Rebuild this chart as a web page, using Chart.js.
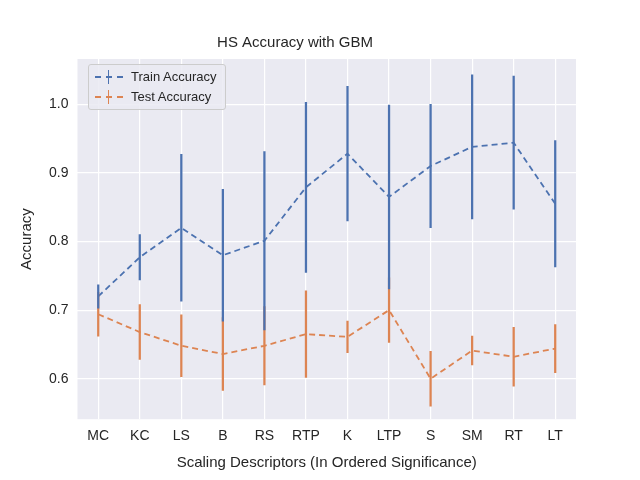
<!DOCTYPE html>
<html>
<head>
<script src="https://cdn.jsdelivr.net/npm/chart.js@4"></script>
<style>
body { margin: 0; background: #fff; }
#wrap { position: relative; width: 640px; height: 480px; }
#legend { position: absolute; left: 88px; top: 64px; background: rgba(234,234,242,0.85); border: 1px solid #ccc; border-radius: 3px;
  font: 13px "Liberation Sans", sans-serif; color: #262626; padding: 2px 8px 2px 6px; line-height: 20px; }
.row { display: flex; align-items: center; }
.sw { position: relative; width: 28px; height: 14px; margin-right: 8px; }
.sw .h { position: absolute; left: 0; top: 6px; width: 28px; border-top: 2px dashed; }
.sw .v { position: absolute; left: 13px; top: 0; height: 14px; border-left: 1.5px solid; }
</style>
</head>
<body>
<div id="wrap">
<canvas id="myChart" width="640" height="480"></canvas>
<div id="legend">
  <div class="row"><div class="sw"><div class="h" style="border-color:#4C72B0"></div><div class="v" style="border-color:#4C72B0"></div></div>Train Accuracy</div>
  <div class="row"><div class="sw"><div class="h" style="border-color:#DD8452"></div><div class="v" style="border-color:#DD8452"></div></div>Test Accuracy</div>
</div>
</div>
<script>
var labels = ['MC', 'KC', 'LS', 'B', 'RS', 'RTP', 'K', 'LTP', 'S', 'SM', 'RT', 'LT'];
var trainAcc = [0.720, 0.777, 0.820, 0.780, 0.801, 0.879, 0.928, 0.865, 0.910, 0.938, 0.944, 0.855];
var trainErr = [0.017, 0.033, 0.107, 0.096, 0.130, 0.124, 0.098, 0.134, 0.090, 0.105, 0.097, 0.092];
var testAcc = [0.694, 0.668, 0.648, 0.636, 0.648, 0.665, 0.661, 0.700, 0.600, 0.641, 0.632, 0.644];
var testErr = [0.032, 0.040, 0.045, 0.053, 0.057, 0.063, 0.023, 0.047, 0.040, 0.021, 0.043, 0.035];

function range(vals, errs) {
    var out = [];
    for (var i = 0; i < vals.length; i++) out.push([vals[i] - errs[i], vals[i] + errs[i]]);
    return out;
}

var bgPlugin = {
    id: 'bg',
    beforeDraw: function (chart) {
        var a = chart.chartArea, ctx = chart.ctx;
        ctx.save();
        ctx.fillStyle = '#EAEAF2';
        ctx.fillRect(a.left, a.top, a.right - a.left, a.bottom - a.top);
        ctx.restore();
    }
};

var font = { family: 'Liberation Sans', size: 14 };
var tfont = { family: 'Liberation Sans', size: 15 };
new Chart(document.getElementById('myChart'), {
    type: 'line',
    plugins: [bgPlugin],
    data: {
        labels: labels,
        datasets: [{
            label: 'Train Accuracy', data: trainAcc, borderColor: '#4C72B0', borderDash: [6, 4],
            borderWidth: 1.8, pointRadius: 0, fill: false, order: 1
        }, {
            label: 'Test Accuracy', data: testAcc, borderColor: '#DD8452', borderDash: [6, 4],
            borderWidth: 1.8, pointRadius: 0, fill: false, order: 1
        }, {
            type: 'bar', label: 'trainErr', data: range(trainAcc, trainErr), backgroundColor: '#4C72B0',
            barThickness: 1.6, grouped: false, order: 0
        }, {
            type: 'bar', label: 'testErr', data: range(testAcc, testErr), backgroundColor: '#DD8452',
            barThickness: 1.6, grouped: false, order: 0
        }]
    },
    options: {
        responsive: false,
        animation: false,
        layout: { padding: { left: 14, right: 64, top: 10, bottom: 4 } },
        plugins: {
            legend: { display: false },
            tooltip: { enabled: false },
            title: { display: true, text: 'HS Accuracy with GBM', color: '#262626', font: { family: 'Liberation Sans', size: 15, weight: 'normal' }, padding: { top: 24, bottom: 7 } }
        },
        scales: {
            x: {
                offset: true,
                grid: { color: '#fff', lineWidth: 1.2, offset: false, drawTicks: false },
                border: { display: false },
                ticks: { color: '#262626', font: font, padding: 9 },
                title: { display: true, text: 'Scaling Descriptors (In Ordered Significance)', color: '#262626', font: tfont, padding: { top: 0 } }
            },
            y: {
                min: 0.541, max: 1.066,
                grid: { color: '#fff', lineWidth: 1.2, drawTicks: false },
                border: { display: false },
                ticks: { color: '#262626', font: font, padding: 9, stepSize: 0.1,
                    callback: function (v) { return (Math.round(v * 10) / 10).toFixed(1); } },
                afterBuildTicks: function (s) { s.ticks = [0.6, 0.7, 0.8, 0.9, 1.0].map(function (v) { return { value: v }; }); },
                title: { display: true, text: 'Accuracy', color: '#262626', font: tfont }
            }
        }
    }
});
</script>
</body>
</html>
